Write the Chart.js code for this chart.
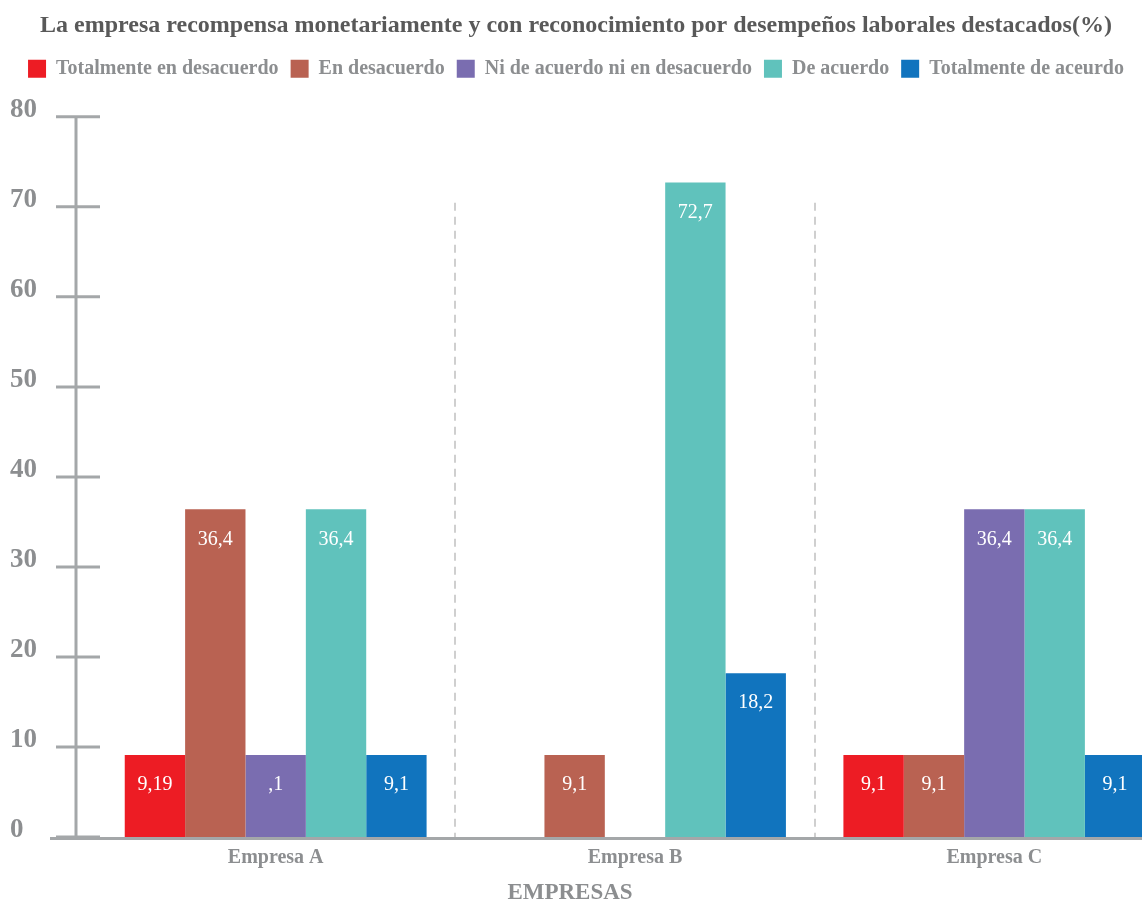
<!DOCTYPE html>
<html>
<head>
<meta charset="utf-8">
<script src="https://cdn.jsdelivr.net/npm/chart.js@4.4.1/dist/chart.umd.min.js"></script>
<style>
    html, body { margin: 0; padding: 0; background: #fff; overflow: hidden; }
    #wrap { width: 1142px; height: 901px; }
</style>
</head>
<body>
<div id="wrap"><canvas id="chart"></canvas></div>
<script>
const empresas = ['Empresa A', 'Empresa B', 'Empresa C'];
const totalDesacuerdo = [9.1, 0, 9.1];
const enDesacuerdo = [36.4, 9.1, 9.1];
const niAcuerdo = [9.1, 0, 36.4];
const deAcuerdo = [36.4, 72.7, 36.4];
const totalAcuerdo = [9.1, 18.2, 9.1];
const yMin = 0, yMax = 80, yStep = 10;
const tituloX = 'EMPRESAS';

// rótulos que en la lámina original salen distintos al valor
const rotulosEspeciales = { '0-0': '9,19', '2-0': ',1' };

const serif = "'Liberation Serif', 'Times New Roman', serif";
const gris = '#8c8e90';
const grisEje = '#a4a7a9';

// más aire debajo de la leyenda
const espacioLeyenda = {
    id: 'espacioLeyenda',
    beforeInit(chart) {
        const fit = chart.legend.fit;
        chart.legend.fit = function () {
            fit.call(this);
            this.height += 28;
        };
    }
};

// el eje X se alarga un poco a la derecha, la última barra queda al borde
const extenderX = {
    id: 'extenderX',
    afterLayout(chart) {
        const x = chart.scales.x;
        x.right += 32;
        x.width += 32;
        x.configure();
    }
};

const ejes = {
    id: 'ejes',
    beforeDatasetsDraw(chart) {
        const { ctx, chartArea, scales: { x, y } } = chart;
        ctx.save();
        // separadores entre empresas
        ctx.strokeStyle = '#cfcfcf';
        ctx.lineWidth = 2;
        ctx.setLineDash([8, 6]);
        for (let i = 1; i < empresas.length; i++) {
            const px = Math.round((x.getPixelForValue(i - 1) + x.getPixelForValue(i)) / 2);
            ctx.beginPath();
            ctx.moveTo(px, chartArea.top + 86);
            ctx.lineTo(px, chartArea.bottom);
            ctx.stroke();
        }
        ctx.setLineDash([]);
        // eje vertical con sus marcas
        const ax = chartArea.left - 20;
        ctx.strokeStyle = grisEje;
        ctx.lineWidth = 3;
        ctx.beginPath();
        ctx.moveTo(ax, y.getPixelForValue(yMax));
        ctx.lineTo(ax, y.getPixelForValue(yMin));
        ctx.stroke();
        y.ticks.forEach(t => {
            const py = y.getPixelForValue(t.value);
            ctx.beginPath();
            ctx.moveTo(ax - 20, py);
            ctx.lineTo(ax + 24, py);
            ctx.stroke();
        });
        ctx.restore();
    },
    afterDatasetsDraw(chart) {
        const { ctx, chartArea } = chart;
        ctx.save();
        ctx.strokeStyle = grisEje;
        ctx.lineWidth = 3;
        ctx.beginPath();
        ctx.moveTo(chartArea.left - 46, chartArea.bottom + 1.5);
        ctx.lineTo(chart.width, chartArea.bottom + 1.5);
        ctx.stroke();
        ctx.restore();
    },
    afterDraw(chart) {
        // título del eje X centrado en el lienzo
        const { ctx } = chart;
        ctx.save();
        ctx.fillStyle = gris;
        ctx.font = `bold 23px ${serif}`;
        ctx.textAlign = 'center';
        ctx.textBaseline = 'middle';
        ctx.fillText(tituloX, chart.width / 2 - 1, chart.height - 8);
        ctx.restore();
    }
};

const rotulos = {
    id: 'rotulos',
    afterDatasetsDraw(chart) {
        const { ctx } = chart;
        ctx.save();
        ctx.fillStyle = '#ffffff';
        ctx.font = `20px ${serif}`;
        ctx.textAlign = 'center';
        ctx.textBaseline = 'middle';
        chart.data.datasets.forEach((ds, i) => {
            chart.getDatasetMeta(i).data.forEach((bar, j) => {
                const v = ds.data[j];
                if (!v) return;
                const txt = rotulosEspeciales[`${i}-${j}`] || v.toFixed(1).replace('.', ',');
                ctx.fillText(txt, bar.x, bar.y + 30);
            });
        });
        ctx.restore();
    }
};

new Chart(document.getElementById('chart'), {
    type: 'bar',
    data: {
        labels: empresas,
        datasets: [
            { label: 'Totalmente en desacuerdo', data: totalDesacuerdo, backgroundColor: '#ed1c24' },
            { label: 'En desacuerdo', data: enDesacuerdo, backgroundColor: '#b96252' },
            { label: 'Ni de acuerdo ni en desacuerdo', data: niAcuerdo, backgroundColor: '#7a6db0' },
            { label: 'De acuerdo', data: deAcuerdo, backgroundColor: '#60c2bc' },
            { label: 'Totalmente de aceurdo', data: totalAcuerdo, backgroundColor: '#1174be' }
        ]
    },
    options: {
        responsive: true,
        maintainAspectRatio: false,
        animation: false,
        layout: { padding: { left: 10, top: 0, right: 0, bottom: 0 } },
        datasets: { bar: { categoryPercentage: 0.84, barPercentage: 1, borderWidth: 0 } },
        plugins: {
            title: {
                display: true,
                text: 'La empresa recompensa monetariamente y con reconocimiento por desempeños laborales destacados(%)',
                color: '#595959',
                font: { family: serif, size: 24, weight: 'bold' },
                padding: { top: 11, bottom: 7 }
            },
            legend: {
                labels: {
                    color: gris,
                    font: { family: serif, size: 20, weight: 'bold' },
                    boxWidth: 18,
                    boxHeight: 18,
                    padding: 12
                }
            },
            tooltip: { enabled: false }
        },
        scales: {
            x: {
                grid: { display: false },
                border: { display: false },
                ticks: { color: gris, font: { family: serif, size: 20, weight: 'bold' }, padding: 1 },
                afterFit(s) { s.height = 64; }
            },
            y: {
                min: yMin,
                max: yMax,
                grid: { display: false },
                border: { display: false },
                ticks: {
                    stepSize: yStep,
                    color: gris,
                    font: { family: serif, size: 27, weight: 'bold' },
                    crossAlign: 'far',
                    labelOffset: -7
                },
                afterFit(s) { s.width = 86; }
            }
        }
    },
    plugins: [espacioLeyenda, extenderX, ejes, rotulos]
});
</script>
</body>
</html>
